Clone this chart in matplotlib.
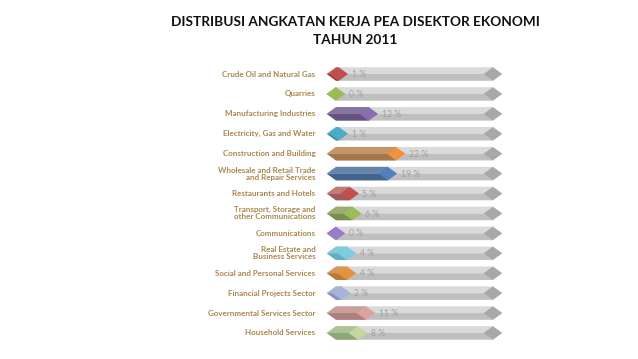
import matplotlib
matplotlib.use("Agg")
import matplotlib.pyplot as plt
from matplotlib.patches import Polygon
import matplotlib.colors as mcolors
import numpy as np

categories = [
    "Crude Oil and Natural Gas",
    "Quarries",
    "Manufacturing Industries",
    "Electricity, Gas and Water",
    "Construction and Building",
    "Wholesale and Retail Trade\nand Repair Services",
    "Restaurants and Hotels",
    "Transport, Storage and\nother Communications",
    "Communications",
    "Real Estate and\nBusiness Services",
    "Social and Personal Services",
    "Financial Projects Sector",
    "Governmental Services Sector",
    "Household Services",
]
values = [1, 0, 12, 1, 22, 19, 5, 6, 0, 4, 4, 2, 11, 8]
value_labels = ["1 %", "0 %", "12 %", "1 %", "22 %", "19 %", "5 %", "6 %", "0 %", "4 %", "4 %", "2 %", "11 %", "8 %"]
body_colors = ["#b5403f", "#8aa13e", "#705c8e", "#3c9db5", "#b88350", "#4a6f9f", "#b5625f",
               "#8a9e58", "#8f70bd", "#6cc2d6", "#d0853c", "#95a3d0", "#c08e8c", "#9fb985"]
cap_colors = ["#c0504d", "#9bbb59", "#8a6cb0", "#4bacc6", "#f0913f", "#4f81bd", "#c0504d",
              "#9bbb59", "#9a7bc9", "#7dcde0", "#e59240", "#a7b4de", "#dba3a0", "#c3d69b"]
title = "DISTRIBUSI ANGKATAN KERJA PEA DISEKTOR EKONOMI\nTAHUN 2011"
BG_MAX = 57.5

W, H = 638, 359
fig = plt.figure(figsize=(W / 100, H / 100), dpi=100)
ax = fig.add_axes([0, 0, 1, 1])
pxx = 2.73   # px per percent
x0px = 336
row0, rowsp = 74, 19.92
ax.set_xlim((0 - x0px) / pxx, (W - x0px) / pxx)
ax.set_ylim((H - row0) / rowsp, (0 - row0) / rowsp)
ax.axis("off")

h = 0.34
d = 3.4


def shade(c, f):
    r = np.array(mcolors.to_rgb(c))
    if f > 0:
        r = r + (1 - r) * f
    else:
        r = r * (1 + f)
    return tuple(np.clip(r, 0, 1))


def prism(ax, y, x_end, body, cap, z):
    # upper face
    ax.add_patch(Polygon([(-d, y), (0, y - h), (x_end, y - h), (x_end, y)],
                         closed=True, facecolor=shade(body, 0.15), edgecolor="none", zorder=z))
    # lower face
    ax.add_patch(Polygon([(-d, y), (0, y + h), (x_end, y + h), (x_end, y)],
                         closed=True, facecolor=shade(body, -0.10), edgecolor="none", zorder=z))
    # end cap diamond
    ax.add_patch(Polygon([(x_end - d, y), (x_end, y - h), (x_end + d, y), (x_end, y + h)],
                         closed=True, facecolor=cap, edgecolor="none", zorder=z + 0.5))


for i, (cat, v, lab, bc, cc) in enumerate(zip(categories, values, value_labels, body_colors, cap_colors)):
    y = i
    # grey background
    prism(ax, y, BG_MAX, "#d4d4d4", "#a8a8a8", 1)
    prism(ax, y, v, bc, cc, 3)
    ax.text(v + d + 1.3, y + 0.03, lab, ha="left", va="center", fontsize=6.2,
            color="#a0a0a0", family="Lato", zorder=5)
    ax.text(-7.5, y, cat, ha="right", va="center", fontsize=5.8, color="#a9874f",
            family="Lato", fontweight="bold", linespacing=1.0, zorder=5)

fig.text(355 / W, 1 - 31 / H, title, ha="center", va="center", fontsize=9.8,
         fontweight="bold", family="Lato", color="#111111", linespacing=1.6)

fig.savefig("out.png", dpi=100)
